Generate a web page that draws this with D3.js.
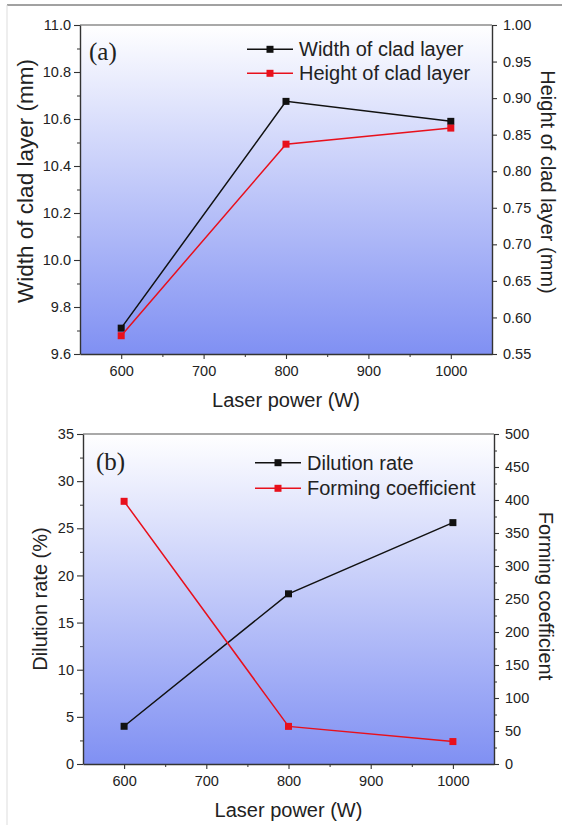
<!DOCTYPE html>
<html>
<head>
<meta charset="utf-8">
<script src="https://cdn.jsdelivr.net/npm/d3@7"></script>
<style>
  html, body { margin: 0; padding: 0; background: #fff; }
  svg text { font-family: "Liberation Sans", Arial, sans-serif; fill: #222; }
</style>
</head>
<body>
<div id="chart"></div>
<script>
// laser power levels (W)
const power = [600, 800, 1000];

// panel (a)
const cladWidth = [9.71, 10.675, 10.59];     // mm, left axis
const cladHeight = [0.575, 0.837, 0.859];    // mm, right axis

// panel (b)
const dilution = [4.0, 18.05, 25.6];         // %, left axis
const forming = [398, 57, 34];               // right axis

const xTicks = [600, 700, 800, 900, 1000];
const xMinor = [650, 750, 850, 950];
const widthTicks = [9.6, 9.8, 10.0, 10.2, 10.4, 10.6, 10.8, 11.0];
const widthMinor = [9.7, 9.9, 10.1, 10.3, 10.5, 10.7, 10.9];
const heightTicks = [0.55, 0.60, 0.65, 0.70, 0.75, 0.80, 0.85, 0.90, 0.95, 1.00];
const dilutionTicks = [0, 5, 10, 15, 20, 25, 30, 35];
const dilutionMinor = [2.5, 7.5, 12.5, 17.5, 22.5, 27.5, 32.5];
const formingTicks = [0, 50, 100, 150, 200, 250, 300, 350, 400, 450, 500];
const formingMinor = [25, 75, 125, 175, 225, 275, 325, 375, 425, 475];

const W = 562, H = 825;
const BLACK = "#111", RED = "#e8101c", AXIS = "#333";
const TICK_FONT = 14.5;

const svg = d3.select("#chart").append("svg")
    .attr("width", W)
    .attr("height", H);

// outer frame of the figure
svg.append("line").attr("x1", 7).attr("x2", W).attr("y1", 5).attr("y2", 5)
    .attr("stroke", "#444").attr("stroke-width", 1);
svg.append("line").attr("x1", 7).attr("x2", 7).attr("y1", 5).attr("y2", H)
    .attr("stroke", "#ddd").attr("stroke-width", 1);

const defs = svg.append("defs");
const grad = defs.append("linearGradient")
    .attr("id", "bg").attr("x1", 0).attr("x2", 0).attr("y1", 0).attr("y2", 1);
grad.append("stop").attr("offset", "0%").attr("stop-color", "#ffffff");
grad.append("stop").attr("offset", "100%").attr("stop-color", "#8090f3");

function drawPanel(p) {
    const g = svg.append("g");
    const x = d3.scaleLinear().domain([550, 1050]).range([p.left, p.right]);
    const yL = d3.scaleLinear().domain(p.leftDomain).range([p.bottom, p.top]);
    const yR = d3.scaleLinear().domain(p.rightDomain).range([p.bottom, p.top]);

    // gradient plot background
    g.append("rect")
        .attr("x", p.left).attr("y", p.top)
        .attr("width", p.right - p.left).attr("height", p.bottom - p.top)
        .attr("fill", "url(#bg)");

    // top frame line
    g.append("line")
        .attr("x1", p.left).attr("x2", p.right).attr("y1", p.top).attr("y2", p.top)
        .attr("stroke", "#555").attr("stroke-width", 1.2);

    const styleAxis = sel => {
        sel.select(".domain").attr("stroke", AXIS).attr("stroke-width", 1.4);
        sel.selectAll(".tick line").attr("stroke", AXIS).attr("stroke-width", 1.1);
        sel.selectAll(".tick text").style("font-size", TICK_FONT + "px").attr("fill", "#222");
    };
    const minor = s => { s.select(".domain").remove(); s.selectAll("line").attr("stroke", AXIS); };

    // minor ticks first
    g.append("g").attr("transform", `translate(0,${p.bottom})`)
        .call(d3.axisBottom(x).tickValues(xMinor).tickSize(3).tickFormat(""))
        .call(minor);
    g.append("g").attr("transform", `translate(${p.left},0)`)
        .call(d3.axisLeft(yL).tickValues(p.leftMinor).tickSize(3).tickFormat(""))
        .call(minor);
    if (p.rightMinor) {
        g.append("g").attr("transform", `translate(${p.right},0)`)
            .call(d3.axisRight(yR).tickValues(p.rightMinor).tickSize(3).tickFormat(""))
            .call(minor);
    }

    g.append("g").attr("transform", `translate(0,${p.bottom})`)
        .call(d3.axisBottom(x).tickValues(xTicks).tickSize(5).tickPadding(7)
            .tickSizeOuter(0).tickFormat(d3.format("d")))
        .call(styleAxis);
    g.append("g").attr("transform", `translate(${p.left},0)`)
        .call(d3.axisLeft(yL).tickValues(p.leftTicks).tickSize(6).tickPadding(3)
            .tickSizeOuter(0).tickFormat(p.leftFormat))
        .call(styleAxis);
    g.append("g").attr("transform", `translate(${p.right},0)`)
        .call(d3.axisRight(yR).tickValues(p.rightTicks).tickSize(5).tickPadding(6)
            .tickSizeOuter(0).tickFormat(p.rightFormat))
        .call(styleAxis);

    // series
    const series = [
        { vals: p.leftVals, y: yL, color: BLACK },
        { vals: p.rightVals, y: yR, color: RED }
    ];
    series.forEach(s => {
        const pts = power.map((d, i) => [x(d), s.y(s.vals[i])]);
        g.append("path")
            .attr("d", d3.line()(pts))
            .attr("fill", "none")
            .attr("stroke", s.color)
            .attr("stroke-width", 1.5);
        g.selectAll(null).data(pts).enter().append("rect")
            .attr("x", d => d[0] - 3.5).attr("y", d => d[1] - 3.5)
            .attr("width", 7).attr("height", 7)
            .attr("fill", s.color);
    });

    // legend
    p.legend.forEach((name, i) => {
        const ly = p.legendY + i * p.legendGap;
        const color = i === 0 ? BLACK : RED;
        g.append("line")
            .attr("x1", p.legendX).attr("x2", p.legendX + 46)
            .attr("y1", ly).attr("y2", ly)
            .attr("stroke", color).attr("stroke-width", 1.5);
        g.append("rect")
            .attr("x", p.legendX + 23 - 3.5).attr("y", ly - 3.5)
            .attr("width", 7).attr("height", 7).attr("fill", color);
        g.append("text")
            .attr("x", p.legendX + 52).attr("y", ly + 7)
            .style("font-size", "20px")
            .text(name);
    });

    // panel label
    g.append("text")
        .attr("x", p.labelX).attr("y", p.labelY)
        .style("font-family", "'Liberation Serif', 'Times New Roman', serif")
        .style("font-size", "25px")
        .text(p.label);

    // axis titles
    g.append("text")
        .attr("x", (p.left + p.right) / 2).attr("y", p.bottom + 53)
        .attr("text-anchor", "middle")
        .style("font-size", "20px")
        .text("Laser power (W)");
    g.append("text")
        .attr("transform", `translate(${p.leftTitleX},${p.leftTitleY}) rotate(-90)`)
        .attr("text-anchor", "middle")
        .style("font-size", p.leftTitleSize + "px")
        .text(p.leftTitle);
    g.append("text")
        .attr("transform", `translate(${p.rightTitleX},${p.rightTitleY}) rotate(90)`)
        .attr("text-anchor", "middle")
        .style("font-size", "20px")
        .text(p.rightTitle);
}

drawPanel({
    left: 80, right: 492, top: 25, bottom: 354,
    leftDomain: [9.6, 11.0], rightDomain: [0.55, 1.00],
    leftTicks: widthTicks, leftMinor: widthMinor,
    rightTicks: heightTicks, rightMinor: null,
    leftFormat: d3.format(".1f"), rightFormat: d3.format(".2f"),
    leftVals: cladWidth, rightVals: cladHeight,
    legend: ["Width of clad layer", "Height of clad layer"],
    legendX: 247, legendY: 49.3, legendGap: 24,
    label: "(a)", labelX: 89, labelY: 60,
    leftTitle: "Width of clad layer (mm)", leftTitleX: 33, leftTitleY: 181, leftTitleSize: 22.5,
    rightTitle: "Height of clad layer (mm)", rightTitleX: 541, rightTitleY: 182
});

drawPanel({
    left: 83, right: 494, top: 434, bottom: 764,
    leftDomain: [0, 35], rightDomain: [0, 500],
    leftTicks: dilutionTicks, leftMinor: dilutionMinor,
    rightTicks: formingTicks, rightMinor: formingMinor,
    leftFormat: d3.format("d"), rightFormat: d3.format("d"),
    leftVals: dilution, rightVals: forming,
    legend: ["Dilution rate", "Forming coefficient"],
    legendX: 255, legendY: 462.7, legendGap: 25.6,
    label: "(b)", labelX: 96, labelY: 470,
    leftTitle: "Dilution rate (%)", leftTitleX: 46.5, leftTitleY: 599, leftTitleSize: 20,
    rightTitle: "Forming coefficient", rightTitleX: 539, rightTitleY: 596
});
</script>
</body>
</html>
